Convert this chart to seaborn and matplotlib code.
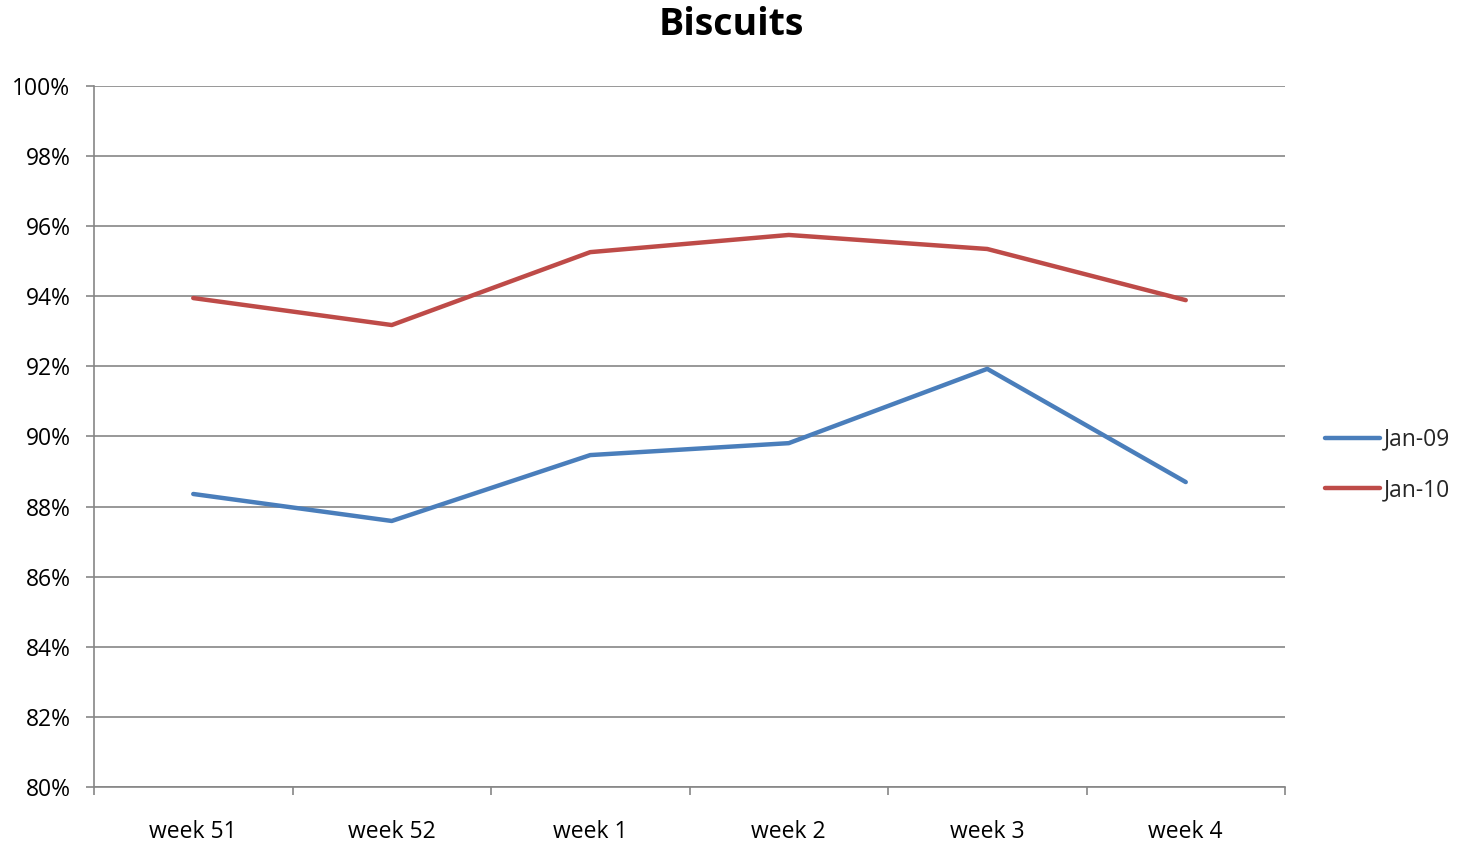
import matplotlib
matplotlib.use("Agg")
import matplotlib.pyplot as plt
import seaborn as sns
import pandas as pd
import numpy as np
from matplotlib.ticker import FuncFormatter, FixedLocator
from matplotlib.lines import Line2D

weeks = ["week 51", "week 52", "week 1", "week 2", "week 3", "week 4"]
jan09 = [88.36, 87.59, 89.47, 89.81, 91.93, 88.70]
jan10 = [93.95, 93.18, 95.26, 95.75, 95.35, 93.89]
series_names = ["Jan-09", "Jan-10"]
colors = ["#4A7EBB", "#BE4B48"]
yticks = list(range(80, 101, 2))

df = pd.DataFrame({
    "week": weeks * 2,
    "pos": list(range(len(weeks))) * 2,
    "value": jan09 + jan10,
    "series": [series_names[0]] * len(weeks) + [series_names[1]] * len(weeks),
})

sns.set_style("white")
plt.rcParams['font.family'] = ['Open Sans', 'DejaVu Sans']

fs = 16.5
fig = plt.figure(figsize=(14.58, 8.42), dpi=100)
ax = fig.add_axes([94/1458, 1-787/842, (1285-94)/1458, (787-86)/842])

sns.lineplot(data=df, x="pos", y="value", hue="series", palette=colors,
             linewidth=3.2, ax=ax, legend=False, sort=False)

ax.set_xlim(-0.5, len(weeks) - 0.5)
ax.set_ylim(80, 100)
ax.yaxis.set_major_locator(FixedLocator(yticks))
ax.yaxis.set_major_formatter(FuncFormatter(lambda v, p: f"{int(round(v))}%"))
ax.set_xticks(np.arange(-0.5, len(weeks), 1.0))
ax.set_xticklabels([])
ax.set_xticks(range(len(weeks)), minor=True)
ax.set_xticklabels(weeks, minor=True)
ax.tick_params(axis="x", which="major", bottom=True, length=6, width=1.2,
               color="#868686", direction="out")
ax.tick_params(axis="x", which="minor", bottom=True, length=0, pad=23.5,
               labelsize=fs, labelcolor="#000000")
ax.tick_params(axis="y", which="major", left=True, length=6, width=1.2,
               color="#868686", direction="out", labelsize=fs, pad=11,
               labelcolor="#000000")
ax.set_xlabel("")
ax.set_ylabel("")
ax.grid(axis="y", color="#868686", linewidth=1.2)
ax.set_axisbelow(True)
for side in ["top", "right"]:
    ax.spines[side].set_visible(False)
for side in ["left", "bottom"]:
    ax.spines[side].set_color("#868686")
    ax.spines[side].set_linewidth(1.2)

fig.text(731/1458, 1-25/842, "Biscuits", ha="center", va="center",
         fontsize=27, fontweight="bold", color="#000000")

handles = [Line2D([0], [0], color=c, linewidth=3.2) for c in colors]
fig.legend(handles, series_names, loc="center left",
           bbox_to_anchor=(1325/1458, 1-465/842), frameon=False,
           fontsize=fs, handlelength=2.4, handletextpad=0.15, labelspacing=1.15,
           borderpad=0, borderaxespad=0)

fig.savefig("out.png", dpi=100)
